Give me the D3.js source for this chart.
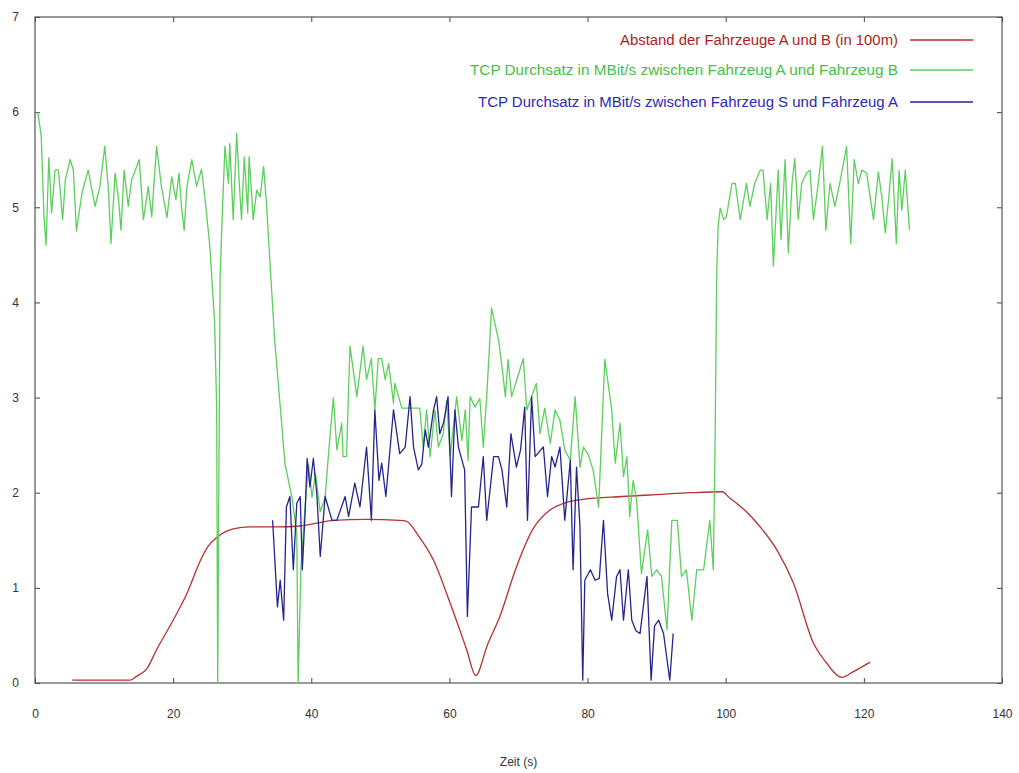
<!DOCTYPE html>
<html>
<head>
<meta charset="utf-8">
<script src="https://cdnjs.cloudflare.com/ajax/libs/d3/7.8.5/d3.min.js"></script>
<style>
  body { margin: 0; background: #fff; }
  text { font-family: "Liberation Sans", Arial, sans-serif; }
</style>
</head>
<body>
<div id="chart"></div>
<script>
// Abstand A-B (in 100m)
var distance = [
  [5.4,0.03],[13.8,0.03],[14.7,0.07],[16.2,0.15],[17.6,0.35],[20.0,0.66],[22.0,0.94],[23.9,1.28],
  [25.1,1.44],[26.5,1.54],[28.7,1.62],[31.1,1.64],[35,1.64],[38.4,1.65],[40.8,1.68],[43.2,1.71],
  [48,1.72],[52.8,1.71],[53.8,1.70],[55.5,1.55],[57.7,1.29],[60.1,0.84],[62.5,0.35],[63.8,0.08],
  [65.5,0.4],[67.3,0.70],[69.7,1.22],[72.1,1.62],[74.6,1.82],[77,1.90],[79.3,1.93],[85,1.96],
  [90,1.98],[95,2.0],[99.5,2.01],[100.5,1.95],[103,1.80],[105,1.64],[107.4,1.40],[109.8,1.05],
  [112.7,0.42],[114.6,0.21],[116.8,0.06],[118.5,0.12],[120.9,0.22]
];

// TCP A <-> B
var tcpAB = [
  [0.4,6.0],[0.9,5.75],[1.3,4.9],[1.6,4.6],[2.0,5.52],[2.4,4.94],[2.9,5.39],[3.4,5.39],[4.0,4.87],
  [4.4,5.29],[5.1,5.5],[5.55,5.39],[6.0,4.75],[6.8,5.15],[7.7,5.39],[8.7,5.01],[9.4,5.22],[10.1,5.64],
  [10.6,5.22],[11.0,4.62],[11.6,5.36],[12.1,5.08],[12.45,4.76],[12.9,5.39],[13.5,5.01],[14.0,5.29],
  [15.1,5.5],[15.7,4.87],[16.4,5.22],[16.9,4.9],[17.6,5.64],[18.3,5.22],[19.1,4.89],[19.8,5.32],
  [20.4,5.08],[20.85,5.36],[21.2,5.01],[21.6,4.76],[22.0,5.22],[22.7,5.5],[23.4,5.22],[24.1,5.4],
  [24.6,5.1],[25.3,4.6],[26.0,3.8],[26.3,2.9],[26.45,0],[26.6,1.9],[26.8,4.27],[27.1,4.9],[27.5,5.64],
  [28.0,5.25],[28.2,5.67],[28.7,4.87],[29.2,5.78],[29.6,5.22],[29.9,4.87],[30.3,5.53],[30.8,4.94],
  [31.0,5.53],[31.6,4.87],[32.1,5.18],[32.6,5.11],[33.1,5.43],[33.5,5.05],[34.7,3.6],[36.2,2.3],
  [37.2,1.95],[37.9,1.57],[38.1,0],[38.5,1.2],[39.0,1.75],[39.6,2.3],[40.1,1.95],[40.6,2.2],[41.3,1.8],
  [42.0,1.95],[42.6,2.5],[43.2,3.0],[43.7,2.45],[44.4,2.73],[44.6,2.38],[45.1,2.38],[45.6,3.54],
  [46.6,3.01],[47.5,3.54],[48.0,3.19],[48.7,3.41],[49.2,2.87],[49.7,3.41],[50.2,3.41],[50.7,3.19],
  [51.2,3.36],[51.9,2.94],[52.1,3.15],[53.1,2.89],[55.7,2.89],[56.2,2.48],[56.7,2.87],[57.2,2.38],
  [57.9,2.87],[58.4,2.48],[59.1,2.62],[59.6,2.97],[60.1,2.38],[61.05,3.01],[61.8,2.55],[62.3,2.87],
  [62.7,2.34],[63.0,3.01],[63.7,2.9],[64.4,2.99],[64.9,2.48],[65.4,3.01],[66.1,3.94],[67.1,3.61],
  [67.6,3.33],[68.1,3.01],[68.5,3.4],[69.0,3.01],[69.8,3.2],[70.7,3.41],[71.2,2.87],[71.9,3.01],
  [72.6,3.15],[73.1,2.62],[73.8,2.89],[74.6,2.52],[75.3,2.87],[76.0,2.76],[76.7,2.45],[77.5,2.34],
  [78.2,3.01],[78.9,2.27],[79.4,2.48],[80.1,2.4],[80.8,2.24],[81.6,1.85],[82.5,3.4],[83.5,2.87],
  [84.0,2.31],[84.7,2.73],[85.2,2.17],[85.7,2.38],[86.1,1.75],[86.6,2.13],[87.1,1.92],[87.8,1.15],
  [88.7,1.61],[89.3,1.12],[90.0,1.19],[90.7,1.12],[91.5,0.56],[92.2,1.71],[93.0,1.71],[93.6,1.12],
  [94.3,1.19],[95.1,0.66],[95.8,1.19],[96.8,1.19],[97.7,1.71],[98.2,1.19],[98.45,2.45],[98.7,4.3],
  [98.9,4.8],[99.2,4.99],[99.7,4.87],[100.1,4.9],[100.9,5.25],[101.4,5.25],[102.1,4.87],[103.0,5.25],
  [103.5,5.01],[104.2,5.25],[105.0,5.39],[105.4,5.39],[106.0,4.87],[106.5,5.25],[106.9,4.38],
  [107.6,5.39],[108.0,4.66],[108.6,5.5],[109.07,4.52],[109.6,5.25],[110.0,5.51],[110.5,4.87],
  [111.0,5.25],[111.7,5.36],[112.2,5.39],[112.7,4.87],[113.4,5.25],[114.0,5.64],[114.5,4.76],
  [115.1,5.25],[115.8,5.01],[116.5,5.25],[117.5,5.64],[118.1,4.62],[118.6,5.5],[119.2,5.25],
  [119.7,5.39],[120.4,5.36],[121.4,4.87],[122.1,5.37],[122.6,5.11],[123.1,4.73],[123.6,5.1],
  [124.1,5.51],[124.7,4.62],[125.1,5.39],[125.5,4.97],[126.0,5.39],[126.6,4.76]
];

// TCP S <-> A
var tcpSA = [
  [34.4,1.71],[34.75,1.26],[35.1,0.8],[35.5,1.08],[36.0,0.66],[36.4,1.85],[36.9,1.96],[37.4,1.19],
  [37.9,1.89],[38.4,1.96],[38.7,1.19],[39.1,1.78],[39.4,2.36],[39.8,2.06],[40.3,2.36],[40.8,1.99],
  [41.3,1.33],[42.0,1.96],[43.0,1.71],[43.7,1.71],[44.9,1.96],[45.4,1.75],[46.3,2.1],[47.05,1.85],
  [48.0,2.48],[48.7,1.71],[49.2,2.87],[49.8,2.13],[50.2,2.31],[50.8,1.96],[51.9,2.87],[52.8,2.41],
  [53.6,2.48],[54.3,3.01],[54.8,2.48],[55.5,2.24],[56.0,2.3],[56.5,2.66],[56.95,2.48],[57.7,2.87],
  [58.15,3.01],[58.6,2.62],[59.2,2.75],[59.8,3.01],[60.3,1.96],[60.8,2.87],[61.3,2.48],[62.2,2.24],
  [62.6,0.7],[63.2,1.85],[64.2,1.85],[64.9,2.38],[65.4,1.71],[66.4,2.38],[67.1,2.38],[67.6,2.24],
  [68.3,1.85],[68.9,2.62],[69.7,2.27],[70.3,2.45],[70.9,2.9],[71.3,1.71],[71.9,3.01],[72.4,2.38],
  [73.6,2.48],[74.2,1.96],[74.8,2.38],[75.3,2.27],[76.0,2.48],[76.7,1.71],[77.5,2.34],[77.9,1.19],
  [78.4,2.27],[78.9,1.64],[79.3,0.03],[79.6,1.08],[80.4,1.19],[81.1,1.08],[81.7,1.1],[82.3,1.71],
  [82.9,0.94],[83.5,0.66],[84.2,1.12],[84.7,1.19],[85.2,0.66],[85.9,1.19],[86.4,0.66],[87.0,0.55],
  [87.6,0.52],[88.6,1.12],[89.2,0.03],[89.7,0.6],[90.3,0.66],[91.0,0.52],[91.9,0.03],[92.4,0.52]
];

var xTicks = [0, 20, 40, 60, 80, 100, 120, 140];
var yTicks = [0, 1, 2, 3, 4, 5, 6, 7];

var legendLabels = [
  "Abstand der Fahrzeuge A und B (in 100m)",
  "TCP Durchsatz in MBit/s zwischen Fahrzeug A und Fahrzeug B",
  "TCP Durchsatz in MBit/s zwischen Fahrzeug S und Fahrzeug A"
];
var lineColors = ["#b83030", "#5ccf5c", "#25258c"];
var textColors = ["#b01c1c", "#45bf45", "#2a2ab4"];
var textWidths = [278, 428, 420];

var margin = {top: 17, right: 17, bottom: 90, left: 35},
    width = 1019 - margin.left - margin.right,
    height = 773 - margin.top - margin.bottom;

var x = d3.scaleLinear().domain([0, 140]).range([0, width]);
var y = d3.scaleLinear().domain([0, 7]).range([height, 0]);

var svg = d3.select("#chart")
    .append("svg")
    .attr("width", 1019)
    .attr("height", 773)
    .append("g")
    .attr("transform", "translate(" + margin.left + "," + margin.top + ")");

// axes, ticks point inward
var xAxis = svg.append("g")
    .attr("transform", "translate(0," + height + ")")
    .call(d3.axisBottom(x).tickValues(xTicks).tickSize(-5).tickSizeOuter(0).tickPadding(26));
var xTop = svg.append("g")
    .call(d3.axisTop(x).tickValues(xTicks).tickSize(-5).tickSizeOuter(0).tickFormat(""));
var yAxis = svg.append("g")
    .call(d3.axisLeft(y).tickValues(yTicks).tickFormat(d3.format("d"))
        .tickSize(-5).tickSizeOuter(0).tickPadding(16));
var yRight = svg.append("g")
    .attr("transform", "translate(" + width + ",0)")
    .call(d3.axisRight(y).tickValues(yTicks).tickSize(-5).tickSizeOuter(0).tickFormat(""));

[xAxis, xTop, yAxis, yRight].forEach(function(a) {
    a.select(".domain").remove();
    a.selectAll("line").attr("stroke", "#444");
    a.selectAll("text").style("font-size", "12px").attr("fill", "#333");
});

svg.append("rect")
    .attr("width", width)
    .attr("height", height)
    .attr("fill", "none")
    .attr("stroke", "#555")
    .attr("stroke-width", 1.2);

var line = d3.line()
    .x(function(d) { return x(d[0]); })
    .y(function(d) { return y(d[1]); });

// distance curve is smooth in the original
var smoothLine = d3.line()
    .curve(d3.curveMonotoneX)
    .x(function(d) { return x(d[0]); })
    .y(function(d) { return y(d[1]); });

[distance, tcpAB, tcpSA].forEach(function(s, i) {
    svg.append("path")
        .datum(s)
        .attr("fill", "none")
        .attr("stroke", lineColors[i])
        .attr("stroke-width", 1.3)
        .attr("stroke-linejoin", "round")
        .attr("d", i == 0 ? smoothLine : line);
});

// legend
var legend = svg.selectAll(".legend")
    .data(legendLabels)
    .enter().append("g")
    .attr("class", "legend")
    .attr("transform", function(d, i) { return "translate(0," + [23, 53, 85][i] + ")"; });

legend.append("text")
    .attr("x", 863)
    .attr("text-anchor", "end")
    .attr("dy", "0.35em")
    .attr("textLength", function(d, i) { return textWidths[i]; })
    .attr("lengthAdjust", "spacingAndGlyphs")
    .style("font-size", "14px")
    .attr("fill", function(d, i) { return textColors[i]; })
    .text(function(d) { return d; });

legend.append("line")
    .attr("x1", 875)
    .attr("x2", 938)
    .attr("stroke", function(d, i) { return lineColors[i]; })
    .attr("stroke-width", 1.3);

svg.append("text")
    .attr("x", width / 2)
    .attr("y", height + 83)
    .attr("text-anchor", "middle")
    .style("font-size", "12px")
    .attr("fill", "#333")
    .text("Zeit (s)");
</script>
</body>
</html>
